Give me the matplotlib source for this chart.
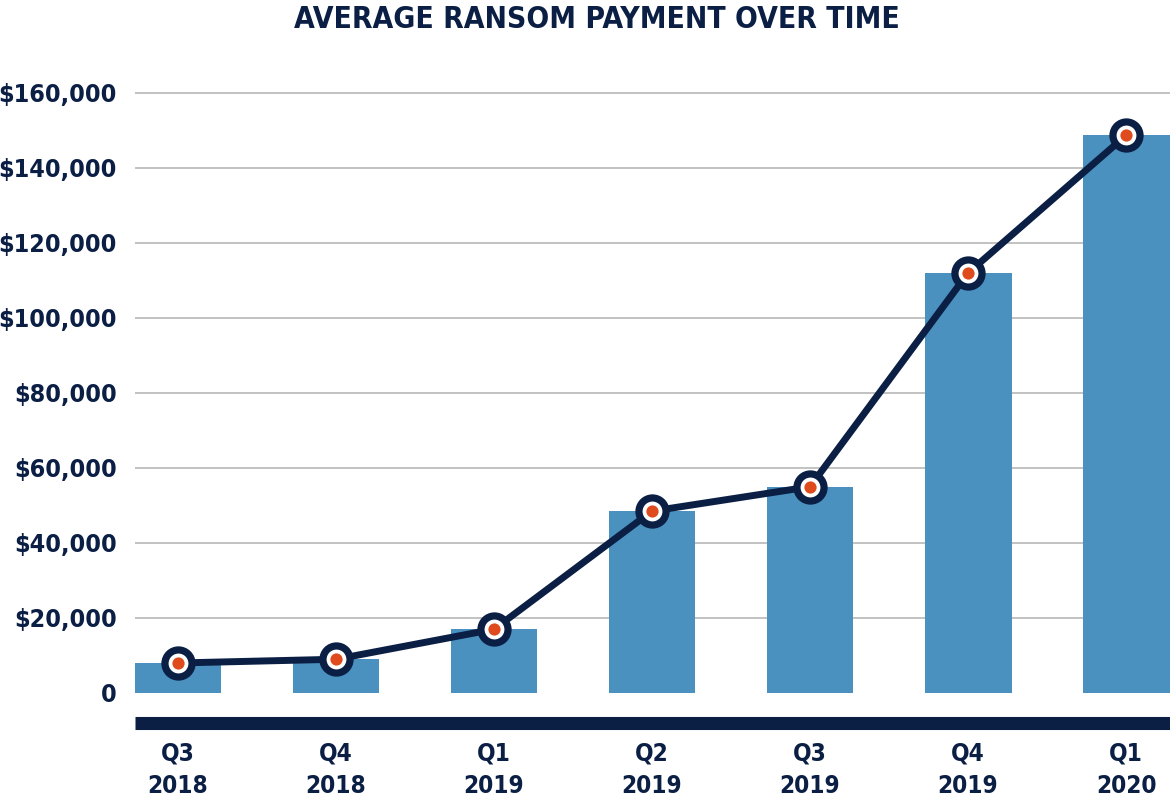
import matplotlib
matplotlib.use("Agg")
import matplotlib.pyplot as plt

# Data
quarters = ["Q3\n2018", "Q4\n2018", "Q1\n2019", "Q2\n2019", "Q3\n2019", "Q4\n2019", "Q1\n2020"]
avg_payment = [8000, 9000, 17000, 48500, 55000, 112000, 148700]
y_ticks = [0, 20000, 40000, 60000, 80000, 100000, 120000, 140000, 160000]
y_tick_labels = ["0", "$20,000", "$40,000", "$60,000", "$80,000", "$100,000",
                 "$120,000", "$140,000", "$160,000"]
title = "AVERAGE RANSOM PAYMENT OVER TIME"

NAVY = "#0b1f45"
BLUE = "#4a91c0"
ORANGE = "#e04b1e"
GRID = "#b8b8b8"

plt.rcParams['font.family'] = ['DejaVu Sans']
plt.rcParams['font.weight'] = 'bold'
plt.rcParams['font.stretch'] = 'condensed'

W, H = 1170, 808
fig = plt.figure(figsize=(W / 100, H / 100), dpi=100)
ax_left, ax_right = 135 / W, 1170 / W
ax_top, ax_bottom = 85 / H, 722.5 / H
ax = fig.add_axes([ax_left, 1 - ax_bottom, ax_right - ax_left, ax_bottom - ax_top])

x = list(range(len(quarters)))
ax.bar(x, avg_payment, width=0.55, color=BLUE, zorder=2)

for t in y_ticks[1:]:
    ax.axhline(t, color=GRID, lw=1.2, zorder=1)

ax.plot(x, avg_payment, color=NAVY, lw=5, zorder=3, solid_capstyle='round')
ax.plot(x, avg_payment, linestyle='none', marker='o', ms=19.5, mfc='white',
        mec=NAVY, mew=5.2, zorder=4)
ax.plot(x, avg_payment, linestyle='none', marker='o', ms=8.8, mfc=ORANGE,
        mec=ORANGE, mew=0, zorder=5)

ax.set_xlim(-0.272, 6.278)
ax.set_ylim(-7867, 162133)
ax.set_yticks(y_ticks)
ax.set_yticklabels(y_tick_labels)
ax.set_xticks(x)
ax.set_xticklabels(quarters, linespacing=1.4)

for s in ['top', 'right', 'left']:
    ax.spines[s].set_visible(False)
ax.spines['bottom'].set_color(NAVY)
ax.spines['bottom'].set_linewidth(9.4)
ax.spines['bottom'].set_capstyle('butt')

ax.tick_params(axis='y', length=0, pad=13, labelsize=18, labelcolor=NAVY)
ax.tick_params(axis='x', length=0, pad=14, labelsize=17.5, labelcolor=NAVY)
for lab in ax.get_xticklabels() + ax.get_yticklabels():
    lab.set_fontweight('bold')
    lab.set_fontstretch('condensed')

fig.text(597 / W, 1 - 20 / H, title, ha='center', va='center',
         fontsize=21.5, fontweight='bold', fontstretch='condensed', color=NAVY)

fig.savefig("out.png", dpi=100)
